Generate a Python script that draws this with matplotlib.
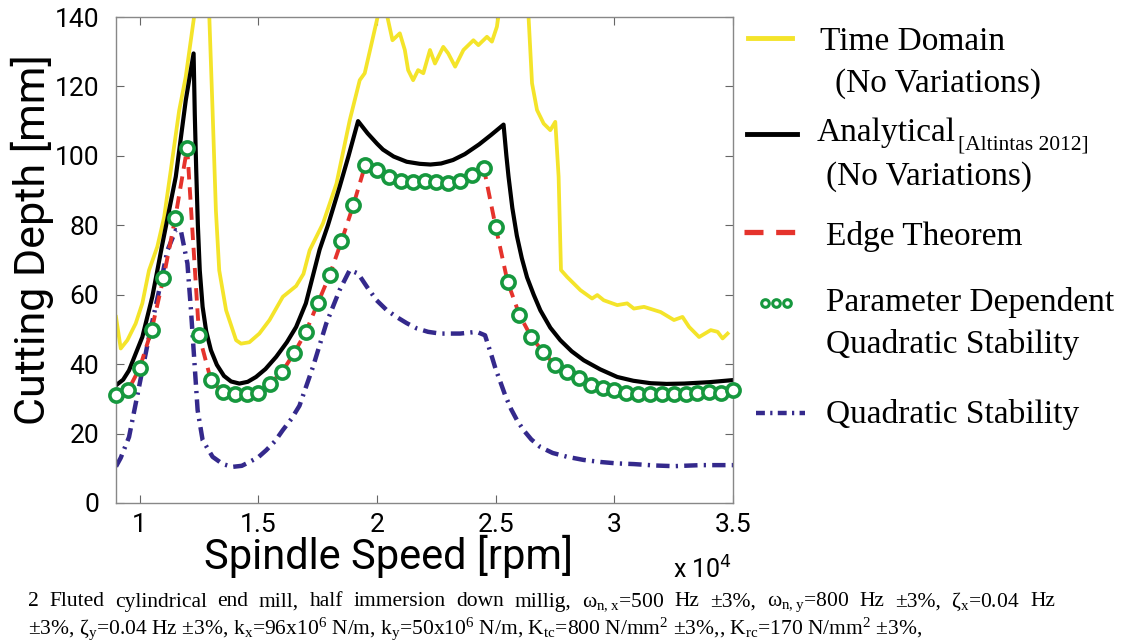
import matplotlib.pyplot as plt
from matplotlib.lines import Line2D

# spindle speed grid of the two robust methods [rpm]
speed_grid = list(range(9000, 35001, 500))

# parameter dependent quadratic stability [mm]
pdqs_depth = [31.0, 32.5, 38.9, 49.8, 64.8, 82.2, 102.3, 48.3, 35.4, 32.0,
              31.5, 31.5, 31.7, 34.4, 37.8, 43.1, 49.3, 57.5, 65.6, 75.4,
              85.8, 97.3, 95.9, 94.0, 92.8, 92.5, 92.8, 92.5, 92.2, 92.8,
              94.4, 96.4, 79.5, 63.7, 54.2, 47.8, 43.5, 39.7, 37.8, 35.9,
              33.9, 33.0, 32.5, 31.7, 31.3, 31.3, 31.3, 31.4, 31.4, 31.7,
              32.0, 31.7, 32.5]

# edge theorem [mm]
edge_depth = [31.0, 32.3, 38.9, 49.8, 64.8, 82.2, 102.3, 48.3, 35.4, 31.8,
              31.5, 31.5, 31.6, 34.4, 37.8, 43.1, 49.3, 57.5, 65.6, 75.4,
              85.8, 97.3, 95.9, 94.0, 92.8, 92.6, 92.6, 92.6, 92.6, 92.8,
              94.4, 96.4, 79.5, 63.7, 54.2, 47.8, 43.5, 39.7, 37.8, 35.9,
              33.9, 33.0, 32.3, 31.7, 31.4, 31.4, 31.4, 31.4, 31.4, 31.5,
              31.6, 31.6, 31.6]

# analytical, Altintas 2012
an_speed = [9000, 9300, 9550, 9800, 10110, 10530, 10960, 11520, 11940, 12270,
            12320, 12380, 12450, 12530, 12650, 12800, 13000, 13250, 13550, 13850,
            14200, 14550, 14900, 15300, 15750, 16200, 16590, 17000, 17580, 17930,
            18420, 18800, 19200, 19600, 20000, 20250, 20700, 21250, 21800, 22250,
            22700, 23200, 23700, 24300, 24800, 25330, 25450, 25540, 25700, 25890,
            26100, 26320, 26600, 26880, 27300, 27720, 28200, 28710, 29400, 30120,
            30800, 31530, 32200, 32940, 34000, 35000]
an_depth = [33.9, 35.5, 38.2, 42.5, 47.8, 59.4, 74.8, 94.0, 116.0, 129.5,
            112.0, 96.0, 80.0, 67.0, 56.5, 49.5, 44.0, 39.8, 36.6, 35.0,
            34.4, 34.9, 36.3, 38.6, 42.1, 46.3, 50.7, 57.5, 73.0, 80.0,
            91.0, 100.0, 110.0, 106.5, 103.5, 101.8, 99.8, 98.3, 97.7, 97.5,
            97.8, 98.8, 100.5, 103.3, 106.0, 109.0, 100.0, 94.0, 85.0, 77.0,
            70.5, 65.0, 60.0, 55.5, 50.5, 46.9, 43.7, 41.1, 38.5, 36.3,
            35.2, 34.5, 34.3, 34.4, 34.8, 35.4]

# time domain simulation
td_speed = [9000, 9200, 9480, 9830, 10110, 10390, 10740, 11030, 11310, 11660,
            11940, 12300, 12600, 12930, 13070, 13210, 13350, 13640, 14060, 14270,
            14620, 15040, 15470, 16030, 16590, 16900, 17160, 17720, 18290, 18850,
            19270, 19480, 19770, 20040, 20230, 20420, 20650, 20960, 21170, 21310,
            21520, 21730, 21950, 22230, 22440, 22790, 23000, 23290, 23640, 24060,
            24270, 24630, 24840, 25050, 25120, 25700, 26380, 26530, 26740, 27020,
            27300, 27510, 27650, 27750, 28010, 28570, 29060, 29280, 29550, 30120,
            30540, 30820, 31250, 31950, 32510, 32870, 33150, 33570, 34060, 34350,
            34560, 34770]
td_depth = [53.6, 44.5, 46.9, 51.7, 57.5, 67.0, 73.8, 82.4, 95.9, 113.0,
            122.8, 140.5, 165.0, 140.5, 113.0, 84.2, 67.0, 55.5, 46.9, 45.9,
            46.3, 48.8, 52.7, 59.4, 62.5, 66.0, 72.8, 80.5, 92.0, 110.3,
            121.8, 123.8, 132.4, 140.5, 160.0, 140.5, 133.3, 135.3, 130.5, 124.7,
            121.8, 124.7, 123.8, 130.5, 126.6, 131.4, 129.5, 125.7, 130.5, 133.3,
            131.9, 134.3, 132.9, 137.2, 140.5, 165.0, 140.5, 120.9, 113.2, 109.3,
            107.4, 109.8, 94.0, 67.1, 65.1, 61.3, 58.9, 59.9, 58.4, 57.0,
            57.5, 56.0, 56.5, 55.0, 52.7, 53.6, 50.7, 47.8, 49.8, 49.3,
            47.4, 48.8]

# quadratic stability
qs_speed = [9000, 9200, 9550, 9970, 10390, 10820, 11170, 11520, 11730, 12010,
            12160, 12300, 12440, 12650, 13070, 13500, 13910, 14300, 14620, 15000,
            15330, 15700, 16030, 16400, 16730, 17300, 17860, 18420, 18850, 19200,
            19600, 19980, 20400, 20820, 21250, 21670, 22150, 22650, 23500, 24200,
            24550, 24840, 25000, 25190, 25400, 25650, 25900, 26170, 26500, 26880,
            27400, 28010, 28700, 29420, 30100, 30820, 31700, 32510, 33640, 35000]
qs_depth = [10.5, 13.0, 19.0, 33.4, 47.8, 61.3, 72.8, 78.6, 78.6, 69.0,
            55.5, 41.1, 26.7, 18.1, 13.3, 11.2, 10.4, 10.7, 11.8, 13.2,
            15.2, 17.8, 21.0, 24.3, 28.0, 39.2, 51.7, 61.3, 67.1, 66.1,
            62.0, 58.4, 55.6, 53.6, 51.8, 50.3, 49.3, 48.8, 48.8, 49.3,
            48.3, 42.1, 38.5, 35.0, 31.0, 27.0, 23.8, 21.0, 18.3, 16.1,
            14.4, 13.3, 12.4, 11.8, 11.4, 11.2, 10.8, 10.6, 10.9, 10.9]

YELLOW = '#f4e42a'
RED = '#e5332c'
GREEN = '#16983e'
PURPLE = '#34298c'

plt.rcParams['font.family'] = ['Roboto', 'DejaVu Sans']
SERIF = ['Liberation Serif', 'DejaVu Serif']
W, H = 1125, 644

fig = plt.figure(figsize=(W / 100, H / 100), dpi=100)
ax = fig.add_axes([0.1031, 0.219, 0.5485, 0.7546])

ax.plot(td_speed, td_depth, color=YELLOW, lw=2.7)
ax.plot(an_speed, an_depth, color='black', lw=3.0)
ax.plot(qs_speed, qs_depth, color=PURPLE, lw=3.2,
        linestyle=(0, (3.0, 1.4, 0.5, 1.4)))
ax.plot(speed_grid, edge_depth, color=RED, lw=2.8, linestyle=(0, (3.2, 2.0)))
ax.plot(speed_grid, pdqs_depth, linestyle='none', marker='o', ms=9.5,
        mfc='white', mec=GREEN, mew=2.6, clip_on=False, zorder=5)

ax.set_xlim(9000, 35000)
ax.set_ylim(0, 140)
ax.set_xticks([10000, 15000, 20000, 25000, 30000, 35000])
ax.set_xticklabels(['1', '1.5', '2', '2.5', '3', '3.5'])
ax.set_yticks(range(0, 141, 20))
ax.tick_params(direction='in', top=True, right=True, length=6, width=0.8,
               color='#666666', labelsize=19)
ax.tick_params(axis='y', pad=12)
ax.tick_params(axis='x', pad=7)
for s in ax.spines.values():
    s.set_color('#888888')
    s.set_linewidth(1.0)

fig.text(388 / W, 1 - 569 / H, 'Spindle Speed [rpm]', fontsize=30,
         ha='center', va='baseline')
fig.text(32 / W, 1 - 240 / H, 'Cutting Depth [mm]', fontsize=31, rotation=90,
         ha='center', va='center')
fig.text(703 / W, 1 - 570 / H, 'x 10$^4$', fontsize=18, ha='center', va='center')


# legend drawn by hand, as in the figure
def leg_line(x0, x1, y, **kw):
    fig.add_artist(Line2D([x0 / W, x1 / W], [1 - y / H, 1 - y / H],
                          transform=fig.transFigure, **kw))


def leg_text(x, y, s, size=24):
    fig.text(x / W, 1 - y / H, s, fontsize=size, family=SERIF,
             ha='left', va='center')


leg_line(748, 792, 38, color=YELLOW, lw=3.5)
leg_text(820, 42, 'Time Domain')
leg_text(835, 84, '(No Variations)')

leg_line(747, 797, 134, color='black', lw=3.5)
leg_text(817, 133, 'Analytical')
leg_text(958, 145, '[Altintas 2012]', size=15.5)
leg_text(826, 177, '(No Variations)')

leg_line(744, 805, 232, color=RED, lw=3.8, linestyle=(0, (3.6, 2.4)))
leg_text(826, 237, 'Edge Theorem')

for cx in (765, 776, 787):
    fig.add_artist(Line2D([cx / W], [1 - 303 / H], transform=fig.transFigure,
                          marker='o', ms=5.5, mfc='white', mec=GREEN, mew=2.2))
leg_text(826, 302, 'Parameter Dependent')
leg_text(826, 345, 'Quadratic Stability')

leg_line(756, 805, 413, color=PURPLE, lw=3.2, linestyle=(0, (2.0, 1.2, 0.5, 1.2)))
leg_text(826, 414, 'Quadratic Stability')

# caption, first line justified to the full width
cap1 = ('2 Fluted cylindrical end mill, half immersion down millig, '
        'ω$\\mathregular{_{n,x}}$=500 Hz ±3%, ω$\\mathregular{_{n,y}}$=800 Hz ±3%, '
        'ζ$\\mathregular{_x}$=0.04 Hz')
cap2 = ('±3%, ζ$\\mathregular{_y}$=0.04 Hz ±3%, k$\\mathregular{_x}$=96x10$\\mathregular{^6}$ N/m, '
        'k$\\mathregular{_y}$=50x10$\\mathregular{^6}$ N/m, K$\\mathregular{_{tc}}$=800 N/mm$\\mathregular{^2}$ ±3%,, '
        'K$\\mathregular{_{rc}}$=170 N/mm$\\mathregular{^2}$ ±3%,')
cap_size = 15.5

words = [fig.text(0, 1 - 602 / H, w, fontsize=cap_size, family=SERIF, va='center')
         for w in cap1.split(' ')]
renderer = fig.canvas.get_renderer()
widths = [t.get_window_extent(renderer).width for t in words]
gap = (1055 - 28 - sum(widths)) / (len(words) - 1)
xpos = 28
for t, wd in zip(words, widths):
    t.set_x(xpos / W)
    xpos += wd + gap

fig.text(28 / W, 1 - 629 / H, cap2, fontsize=cap_size, family=SERIF, va='center')

fig.savefig('out.png', dpi=100)
